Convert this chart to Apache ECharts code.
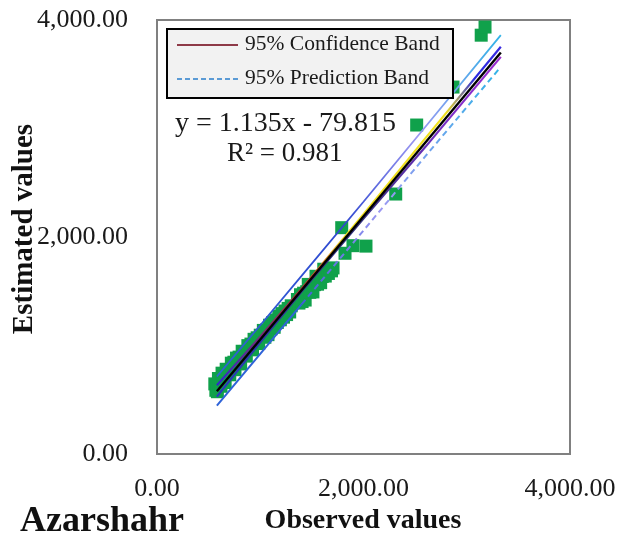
<!DOCTYPE html>
<html>
<head>
<meta charset="utf-8">
<script src="https://cdn.jsdelivr.net/npm/echarts@6/dist/echarts.min.js"></script>
<style>
  html, body { margin: 0; padding: 0; background: #fff; }
  #chart { width: 622px; height: 540px; }
</style>
</head>
<body>
<div id="chart"></div>
<script>
// Observed vs estimated values, Azarshahr station
const observedValues = [
  560, 570, 580, 585, 595, 600, 610, 620, 630, 640, 650, 660, 670, 685, 695, 705,
  720, 730, 745, 755, 770, 785, 795, 810, 825, 840, 850, 865, 880, 895, 910, 925,
  940, 955, 970, 985, 1000,
  1015, 1030, 1045, 1060, 1075, 1090, 1105, 1120, 1135, 1150, 1165, 1180, 1195, 1210,
  1225, 1240, 1255, 1270, 1285, 1300,
  1360, 1375, 1390, 1405, 1420, 1435, 1450, 1465, 1480, 1495, 1510, 1525, 1540, 1555,
  1570, 1585, 1600, 1615, 1630, 1645, 1660, 1675, 1690, 1705,
  1789, 1821, 1898, 2024, 2312, 2515, 2867, 3140, 3177
];
const estimatedValues = [
  646, 587, 639, 574, 696, 641, 683, 624, 745, 697, 738, 659, 781, 738, 779, 730,
  837, 799, 846, 777, 884, 851, 893, 830, 947, 914, 945, 902, 999, 966, 1013, 960,
  1057, 1034, 1071, 1018, 1095,
  1082, 1139, 1076, 1143, 1100, 1187, 1154, 1211, 1168, 1235, 1212, 1270, 1237, 1294,
  1261, 1318, 1285, 1342, 1309, 1366,
  1424, 1391, 1468, 1405, 1482, 1419, 1496, 1563, 1490, 1557, 1494, 1561, 1638, 1565,
  1632, 1579, 1636, 1703, 1640, 1697, 1664, 1711, 1688, 1715,
  2086, 1850, 1920, 1916, 2396, 3032, 3382, 3860, 3935
];

// Linear fit y = 1.135x - 79.815 over the observed range
const fitSlope = 1.135;
const fitIntercept = -79.815;
const fitRange = [580, 3330];

// 95% bands, read at a few observed values
const bandObserved = [580, 1000, 1400, 2000, 2600, 3330];
const predictionUpper = [714, 1187, 1641, 2325, 3016, 3860];
const confidenceUpper = [634, 1080, 1521, 2210, 2911, 3754];
const confidenceLower = [529, 1030, 1497, 2170, 2831, 3660];
const predictionLower = [445, 923, 1379, 2060, 2745, 3568];

const tickLabels = { 0: '0.00', 2000: '2,000.00', 4000: '4,000.00' };

const serif = '"Liberation Serif", "Times New Roman", serif';

function pairs(xs, ys) { return xs.map((x, i) => [x, ys[i]]); }
function grad(stops) {
  return new echarts.graphic.LinearGradient(0, 1, 1, 0,
    stops.map(s => ({ offset: s[0], color: s[1] })));
}

const fitLine = fitRange.map(x => [x, fitSlope * x + fitIntercept]);
const predLowerPts = pairs(bandObserved, predictionLower);

const chart = echarts.init(document.getElementById('chart'), null, { renderer: 'canvas' });

const lineBase = { type: 'line', symbol: 'none', silent: true, animation: false };

chart.setOption({
  backgroundColor: '#ffffff',
  animation: false,
  grid: {
    left: 157, top: 20, width: 413, height: 434,
    show: true, borderColor: '#808080', borderWidth: 2, backgroundColor: 'transparent'
  },
  xAxis: {
    type: 'value', min: 0, max: 4000, interval: 2000,
    axisLine: { show: false }, axisTick: { show: false }, splitLine: { show: false },
    axisLabel: {
      margin: 22, color: '#1a1a1a', fontFamily: serif, fontSize: 26,
      formatter: v => tickLabels[v] ?? ''
    }
  },
  yAxis: {
    type: 'value', min: 0, max: 4000, interval: 2000,
    axisLine: { show: false }, axisTick: { show: false }, splitLine: { show: false },
    axisLabel: {
      margin: 29, color: '#1a1a1a', fontFamily: serif, fontSize: 26,
      formatter: v => tickLabels[v] ?? ''
    }
  },
  series: [
    {
      name: 'Estimated', type: 'scatter', symbol: 'rect', symbolSize: 13,
      itemStyle: { color: '#10a14b', opacity: 1 },
      data: pairs(observedValues, estimatedValues)
    },
    Object.assign({}, lineBase, {
      name: '95% Prediction Band',
      data: pairs(bandObserved, predictionUpper),
      lineStyle: { width: 1.8, color: grad([[0, '#2f63d8'], [0.45, '#3048d0'], [0.7, '#9c98f2'], [1, '#2fb4e6']]) }
    }),
    Object.assign({}, lineBase, {
      name: '95% Confidence Band',
      data: pairs(bandObserved, confidenceUpper),
      lineStyle: { width: 2.2, color: grad([[0, '#2a2ad0'], [0.3, '#c02a2a'], [0.45, '#f0e020'], [0.8, '#f0e020'], [0.9, '#2a2ae0'], [1, '#3a2ae0']]) }
    }),
    Object.assign({}, lineBase, {
      name: '95% Confidence Band',
      data: pairs(bandObserved, confidenceLower),
      lineStyle: { width: 2.2, color: grad([[0, '#2a3ac0'], [0.5, '#30307a'], [0.8, '#7a30c8'], [1, '#a02ed0']]) }
    }),
    Object.assign({}, lineBase, {
      name: '95% Prediction Band',
      data: predLowerPts.slice(0, 3),
      lineStyle: { width: 2, color: '#2f63d8' }
    }),
    Object.assign({}, lineBase, {
      name: '95% Prediction Band',
      data: predLowerPts.slice(2),
      lineStyle: { width: 2, type: [6, 4], color: grad([[0, '#3a5ad8'], [0.4, '#9c98f2'], [1, '#2fb4e6']]) }
    }),
    Object.assign({}, lineBase, {
      name: 'Linear fit',
      data: fitLine,
      lineStyle: { width: 2.4, color: '#000000' }
    })
  ],
  graphic: [
    // legend box
    { type: 'rect', left: 166, top: 28, shape: { width: 286, height: 69 },
      style: { fill: '#f2f2f2', stroke: '#000', lineWidth: 2 }, z: 10 },
    { type: 'line', shape: { x1: 177, y1: 45, x2: 238, y2: 45 },
      style: { stroke: '#8e3a48', lineWidth: 2 }, z: 11 },
    { type: 'text', left: 245, top: 33,
      style: { text: '95% Confidence Band', font: '21.5px ' + serif, fill: '#1a1a1a' }, z: 11 },
    { type: 'line', shape: { x1: 177, y1: 79, x2: 238, y2: 79 },
      style: { stroke: '#5b9bd5', lineWidth: 2, lineDash: [5, 3] }, z: 11 },
    { type: 'text', left: 245, top: 67,
      style: { text: '95% Prediction Band', font: '21.5px ' + serif, fill: '#1a1a1a' }, z: 11 },
    // fit equation
    { type: 'text', left: 175, top: 110,
      style: { text: 'y = 1.135x - 79.815', font: '28px ' + serif, fill: '#1a1a1a' }, z: 11 },
    { type: 'text', left: 227, top: 140,
      style: { text: 'R² = 0.981', font: '27px ' + serif, fill: '#1a1a1a' }, z: 11 },
    // axis titles
    { type: 'text', x: 363, y: 521,
      style: { text: 'Observed values', font: 'bold 28px ' + serif, fill: '#111', align: 'center', verticalAlign: 'middle' } },
    { type: 'text', x: 25, y: 229, rotation: Math.PI / 2,
      style: { text: 'Estimated values', font: 'bold 29px ' + serif, fill: '#111', align: 'center', verticalAlign: 'middle' } },
    { type: 'text', x: 20, y: 522,
      style: { text: 'Azarshahr', font: 'bold 36px ' + serif, fill: '#111', align: 'left', verticalAlign: 'middle' } }
  ]
});
</script>
</body>
</html>
